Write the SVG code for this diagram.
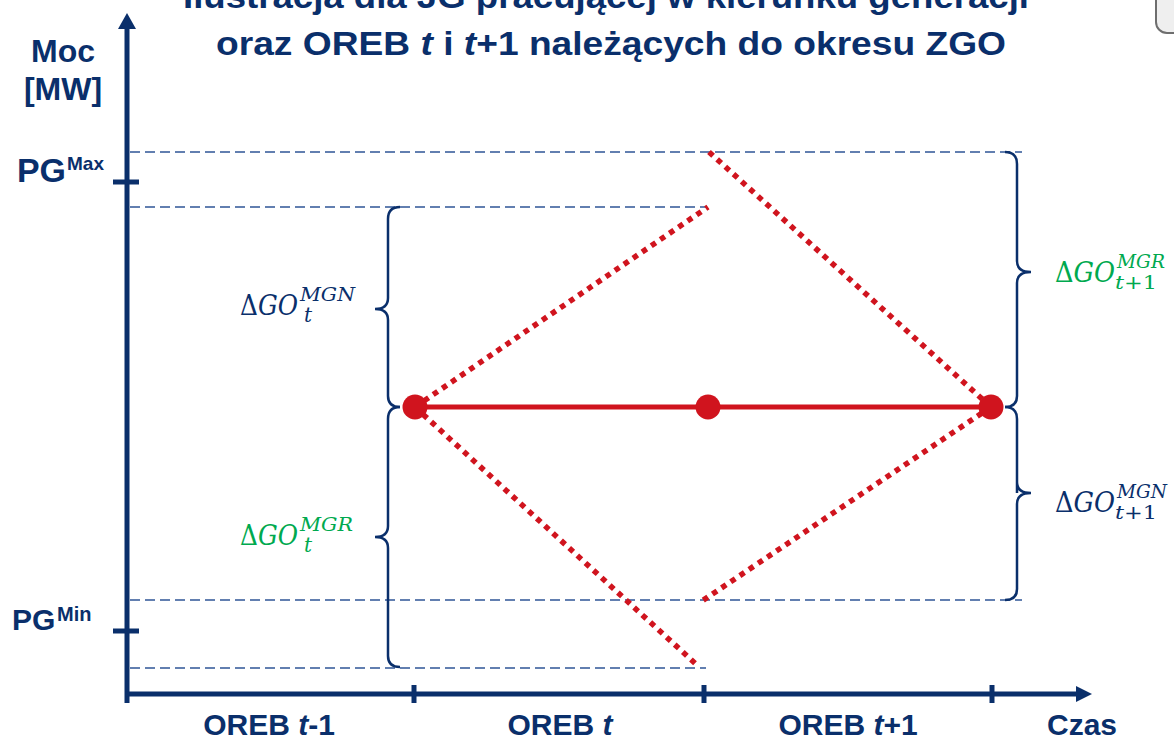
<svg xmlns="http://www.w3.org/2000/svg" width="1174" height="740" viewBox="0 0 1174 740">
  <style>
    .ttl { font-family: "Liberation Sans", Arial, sans-serif; font-weight: bold; fill: #0A2F6B; }
    .ax { stroke: #0A2F6B; stroke-width: 5; fill: none; }
    .guide { stroke: #2F5597; stroke-width: 1.5; stroke-dasharray: 10 5; fill: none; }
    .brace { stroke: #0A2F6B; stroke-width: 2.5; fill: none; }
    .dot-line { stroke: #D0141E; stroke-width: 5.5; stroke-dasharray: 5.5 5.5; fill: none; }
    .solid { stroke: #D0141E; stroke-width: 5; fill: none; }
    .pt { fill: #D0141E; }
    .m { font-family: "DejaVu Serif", "Liberation Serif", serif; font-style: italic; }
    .up { font-style: normal; }
    .blue { fill: #0A2F6B; }
    .green { fill: #00A94F; }
  </style>

  <!-- corner fragment -->
  <rect x="1156" y="-20" width="40" height="53" rx="11" fill="#EFEFEF" stroke="#6E6E6E" stroke-width="2"/>

  <!-- title -->
  <g id="title">
    <text class="ttl" x="183" y="8" font-size="33" textLength="846" lengthAdjust="spacingAndGlyphs">Ilustracja dla JG pracującej w kierunku generacji</text>
    <text class="ttl" x="216" y="55" font-size="33" textLength="790" lengthAdjust="spacingAndGlyphs">oraz OREB <tspan font-style="italic">t</tspan> i <tspan font-style="italic">t</tspan>+1 należących do okresu ZGO</text>
  </g>

  <!-- axes -->
  <g id="axes">
    <line class="ax" x1="127" y1="26" x2="127" y2="703"/>
    <polygon points="127,13 118,29 136,29" fill="#0A2F6B"/>
    <line class="ax" x1="125" y1="694" x2="1078" y2="694"/>
    <polygon points="1092,694 1076,686 1076,702" fill="#0A2F6B"/>
    <line class="ax" x1="113" y1="182" x2="139" y2="182"/>
    <line class="ax" x1="113" y1="631" x2="139" y2="631"/>
    <line class="ax" x1="414" y1="685" x2="414" y2="703"/>
    <line class="ax" x1="704" y1="685" x2="704" y2="703"/>
    <line class="ax" x1="992" y1="685" x2="992" y2="703"/>
  </g>

  <!-- axis labels -->
  <g id="axis-labels" class="ttl">
    <text x="63" y="62" font-size="32" text-anchor="middle">Moc</text>
    <text x="63" y="100" font-size="32" text-anchor="middle">[MW]</text>
    <text x="17" y="182" font-size="33" textLength="49" lengthAdjust="spacingAndGlyphs">PG</text>
    <text x="67" y="170" font-size="19">Max</text>
    <text x="12" y="630" font-size="30">PG</text>
    <text x="57" y="621" font-size="20">Min</text>
    <text x="269" y="735" font-size="30" text-anchor="middle">OREB <tspan font-style="italic">t</tspan>-1</text>
    <text x="560" y="735" font-size="30" text-anchor="middle">OREB <tspan font-style="italic">t</tspan></text>
    <text x="848" y="735" font-size="30" text-anchor="middle">OREB <tspan font-style="italic">t</tspan>+1</text>
    <text x="1047" y="735" font-size="30">Czas</text>
  </g>

  <!-- dashed guides -->
  <g id="guides">
    <line class="guide" x1="130" y1="152" x2="1022" y2="152"/>
    <line class="guide" x1="130" y1="207" x2="706" y2="207"/>
    <line class="guide" x1="130" y1="600" x2="1022" y2="600"/>
    <line class="guide" x1="130" y1="668" x2="706" y2="668"/>
  </g>

  <!-- braces -->
  <g id="braces">
    <path class="brace" d="M400,207 Q388,207 388,219 L388,298 Q388,309 375,309 Q388,309 388,320 L388,396 Q388,407 400,407"/>
    <path class="brace" d="M400,407 Q388,407 388,419 L388,526 Q388,537 375,537 Q388,537 388,548 L388,656 Q388,667 400,667"/>
    <path class="brace" d="M1005,152 Q1017,152 1017,164 L1017,261 Q1017,272 1031,272 Q1017,272 1017,283 L1017,396 Q1017,407 1005,407"/>
    <path class="brace" d="M1005,407 Q1017,407 1017,419 L1017,482 Q1017,493 1017,493 Q1017,493 1017,493 M1017,482 Q1017,493 1031,493 Q1017,493 1017,504 L1017,589 Q1017,600 1005,600"/>
  </g>

  <!-- connectors -->
  <g id="connectors">
    <line class="solid" x1="415" y1="407" x2="991" y2="407"/>
    <line class="dot-line" x1="415" y1="407" x2="708" y2="207"/>
    <line class="dot-line" x1="415" y1="407" x2="697" y2="665"/>
    <line class="dot-line" x1="709" y1="152" x2="991" y2="407"/>
    <line class="dot-line" x1="991" y1="407" x2="702" y2="601"/>
  </g>

  <!-- nodes -->
  <g id="node-start"><circle class="pt" cx="415" cy="407" r="12.5"/></g>
  <g id="node-mid"><circle class="pt" cx="708" cy="407" r="12.5"/></g>
  <g id="node-end"><circle class="pt" cx="991" cy="407" r="12.5"/></g>

  <!-- math labels -->
  <g id="label-mgn-t" class="m blue">
    <text x="240" y="315" font-size="27" textLength="58" lengthAdjust="spacingAndGlyphs"><tspan class="up">Δ</tspan>GO</text>
    <text x="300" y="301" font-size="19" textLength="55" lengthAdjust="spacingAndGlyphs">MGN</text>
    <text x="304" y="322" font-size="20">t</text>
  </g>
  <g id="label-mgr-t" class="m green">
    <text x="240" y="545" font-size="27" textLength="58" lengthAdjust="spacingAndGlyphs"><tspan class="up">Δ</tspan>GO</text>
    <text x="300" y="531" font-size="19" textLength="53" lengthAdjust="spacingAndGlyphs">MGR</text>
    <text x="304" y="552" font-size="20">t</text>
  </g>
  <g id="label-mgr-t1" class="m green">
    <text x="1055" y="282" font-size="27" textLength="60" lengthAdjust="spacingAndGlyphs"><tspan class="up">Δ</tspan>GO</text>
    <text x="1117" y="268" font-size="19" textLength="48" lengthAdjust="spacingAndGlyphs">MGR</text>
    <text x="1115" y="289" font-size="19" textLength="42" lengthAdjust="spacingAndGlyphs">t<tspan class="up">+1</tspan></text>
  </g>
  <g id="label-mgn-t1" class="m blue">
    <text x="1055" y="512" font-size="27" textLength="60" lengthAdjust="spacingAndGlyphs"><tspan class="up">Δ</tspan>GO</text>
    <text x="1117" y="498" font-size="19" textLength="50" lengthAdjust="spacingAndGlyphs">MGN</text>
    <text x="1115" y="519" font-size="19" textLength="42" lengthAdjust="spacingAndGlyphs">t<tspan class="up">+1</tspan></text>
  </g>
</svg>
